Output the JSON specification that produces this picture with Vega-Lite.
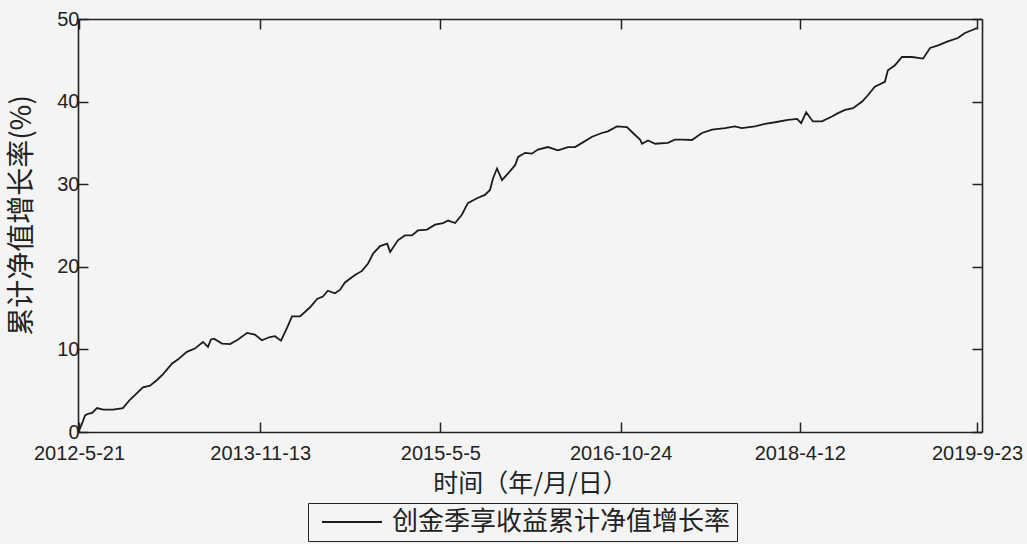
{
  "$schema": "https://vega.github.io/schema/vega-lite/v6.json",
  "width": 904,
  "height": 413,
  "autosize": {"type": "none"},
  "padding": {"left": 78, "top": 19, "right": 45, "bottom": 112},
  "background": "#f4f4f4",
  "config": {"view": {"stroke": null}},
  "data": {"values": [
    {"date": "2012-05-21", "value": 0.2, "series": "创金季享收益累计净值增长率"},
    {"date": "2012-05-30", "value": 1.0, "series": "创金季享收益累计净值增长率"},
    {"date": "2012-06-08", "value": 2.0, "series": "创金季享收益累计净值增长率"},
    {"date": "2012-06-17", "value": 2.2, "series": "创金季享收益累计净值增长率"},
    {"date": "2012-06-29", "value": 2.3, "series": "创金季享收益累计净值增长率"},
    {"date": "2012-07-14", "value": 2.9, "series": "创金季享收益累计净值增长率"},
    {"date": "2012-08-01", "value": 2.7, "series": "创金季享收益累计净值增长率"},
    {"date": "2012-08-31", "value": 2.7, "series": "创金季享收益累计净值增长率"},
    {"date": "2012-09-29", "value": 2.9, "series": "创金季享收益累计净值增长率"},
    {"date": "2012-10-20", "value": 3.9, "series": "创金季享收益累计净值增长率"},
    {"date": "2012-11-10", "value": 4.7, "series": "创金季享收益累计净值增长率"},
    {"date": "2012-11-28", "value": 5.4, "series": "创金季享收益累计净值增长率"},
    {"date": "2012-12-19", "value": 5.6, "series": "创金季享收益累计净值增长率"},
    {"date": "2013-01-09", "value": 6.3, "series": "创金季享收益累计净值增长率"},
    {"date": "2013-01-27", "value": 7.0, "series": "创金季享收益累计净值增长率"},
    {"date": "2013-02-23", "value": 8.3, "series": "创金季享收益累计净值增长率"},
    {"date": "2013-03-13", "value": 8.8, "series": "创金季享收益累计净值增长率"},
    {"date": "2013-04-08", "value": 9.7, "series": "创金季享收益累计净值增长率"},
    {"date": "2013-05-02", "value": 10.1, "series": "创金季享收益累计净值增长率"},
    {"date": "2013-05-26", "value": 10.9, "series": "创金季享收益累计净值增长率"},
    {"date": "2013-06-10", "value": 10.3, "series": "创金季享收益累计净值增长率"},
    {"date": "2013-06-19", "value": 11.2, "series": "创金季享收益累计净值增长率"},
    {"date": "2013-06-28", "value": 11.3, "series": "创金季享收益累计净值增长率"},
    {"date": "2013-07-22", "value": 10.7, "series": "创金季享收益累计净值增长率"},
    {"date": "2013-08-15", "value": 10.65, "series": "创金季享收益累计净值增长率"},
    {"date": "2013-09-08", "value": 11.2, "series": "创金季享收益累计净值增长率"},
    {"date": "2013-10-05", "value": 12.0, "series": "创金季享收益累计净值增长率"},
    {"date": "2013-10-28", "value": 11.8, "series": "创金季享收益累计净值增长率"},
    {"date": "2013-11-18", "value": 11.1, "series": "创金季享收益累计净值增长率"},
    {"date": "2013-12-12", "value": 11.5, "series": "创金季享收益累计净值增长率"},
    {"date": "2013-12-27", "value": 11.6, "series": "创金季享收益累计净值增长率"},
    {"date": "2014-01-14", "value": 11.05, "series": "创金季享收益累计净值增长率"},
    {"date": "2014-02-01", "value": 12.6, "series": "创金季享收益累计净值增长率"},
    {"date": "2014-02-16", "value": 14.0, "series": "创金季享收益累计净值增长率"},
    {"date": "2014-03-12", "value": 14.0, "series": "创金季享收益累计净值增长率"},
    {"date": "2014-04-11", "value": 15.1, "series": "创金季享收益累计净值增长率"},
    {"date": "2014-05-02", "value": 16.1, "series": "创金季享收益累计净值增长率"},
    {"date": "2014-05-19", "value": 16.4, "series": "创金季享收益累计净值增长率"},
    {"date": "2014-06-03", "value": 17.1, "series": "创金季享收益累计净值增长率"},
    {"date": "2014-06-24", "value": 16.8, "series": "创金季享收益累计净值增长率"},
    {"date": "2014-07-09", "value": 17.2, "series": "创金季享收益累计净值增长率"},
    {"date": "2014-07-24", "value": 18.1, "series": "创金季享收益累计净值增长率"},
    {"date": "2014-08-23", "value": 19.0, "series": "创金季享收益累计净值增长率"},
    {"date": "2014-09-13", "value": 19.5, "series": "创金季享收益累计净值增长率"},
    {"date": "2014-10-01", "value": 20.4, "series": "创金季享收益累计净值增长率"},
    {"date": "2014-10-16", "value": 21.6, "series": "创金季享收益累计净值增长率"},
    {"date": "2014-11-06", "value": 22.5, "series": "创金季享收益累计净值增长率"},
    {"date": "2014-11-27", "value": 22.8, "series": "创金季享收益累计净值增长率"},
    {"date": "2014-12-06", "value": 21.8, "series": "创金季享收益累计净值增长率"},
    {"date": "2014-12-29", "value": 23.2, "series": "创金季享收益累计净值增长率"},
    {"date": "2015-01-19", "value": 23.8, "series": "创金季享收益累计净值增长率"},
    {"date": "2015-02-09", "value": 23.8, "series": "创金季享收益累计净值增长率"},
    {"date": "2015-02-27", "value": 24.4, "series": "创金季享收益累计净值增长率"},
    {"date": "2015-03-26", "value": 24.5, "series": "创金季享收益累计净值增长率"},
    {"date": "2015-04-19", "value": 25.1, "series": "创金季享收益累计净值增长率"},
    {"date": "2015-05-13", "value": 25.3, "series": "创金季享收益累计净值增长率"},
    {"date": "2015-05-28", "value": 25.6, "series": "创金季享收益累计净值增长率"},
    {"date": "2015-06-18", "value": 25.3, "series": "创金季享收益累计净值增长率"},
    {"date": "2015-07-08", "value": 26.3, "series": "创金季享收益累计净值增长率"},
    {"date": "2015-07-26", "value": 27.7, "series": "创金季享收益累计净值增长率"},
    {"date": "2015-08-22", "value": 28.3, "series": "创金季享收益累计净值增长率"},
    {"date": "2015-09-15", "value": 28.7, "series": "创金季享收益累计净值增长率"},
    {"date": "2015-09-30", "value": 29.3, "series": "创金季享收益累计净值增长率"},
    {"date": "2015-10-09", "value": 30.7, "series": "创金季享收益累计净值增长率"},
    {"date": "2015-10-21", "value": 31.9, "series": "创金季享收益累计净值增长率"},
    {"date": "2015-11-05", "value": 30.5, "series": "创金季享收益累计净值增长率"},
    {"date": "2015-11-23", "value": 31.3, "series": "创金季享收益累计净值增长率"},
    {"date": "2015-12-14", "value": 32.3, "series": "创金季享收益累计净值增长率"},
    {"date": "2015-12-23", "value": 33.3, "series": "创金季享收益累计净值增长率"},
    {"date": "2016-01-13", "value": 33.8, "series": "创金季享收益累计净值增长率"},
    {"date": "2016-02-02", "value": 33.7, "series": "创金季享收益累计净值增长率"},
    {"date": "2016-02-20", "value": 34.2, "series": "创金季享收益累计净值增长率"},
    {"date": "2016-03-21", "value": 34.5, "series": "创金季享收益累计净值增长率"},
    {"date": "2016-04-20", "value": 34.1, "series": "创金季享收益累计净值增长率"},
    {"date": "2016-05-20", "value": 34.5, "series": "创金季享收益累计净值增长率"},
    {"date": "2016-06-10", "value": 34.5, "series": "创金季享收益累计净值增长率"},
    {"date": "2016-07-01", "value": 35.0, "series": "创金季享收益累计净值增长率"},
    {"date": "2016-07-31", "value": 35.75, "series": "创金季享收益累计净值增长率"},
    {"date": "2016-08-29", "value": 36.2, "series": "创金季享收益累计净值增长率"},
    {"date": "2016-09-16", "value": 36.4, "series": "创金季享收益累计净值增长率"},
    {"date": "2016-10-13", "value": 37.0, "series": "创金季享收益累计净值增长率"},
    {"date": "2016-11-12", "value": 36.9, "series": "创金季享收益累计净值增长率"},
    {"date": "2016-11-30", "value": 36.2, "series": "创金季享收益累计净值增长率"},
    {"date": "2016-12-21", "value": 35.4, "series": "创金季享收益累计净值增长率"},
    {"date": "2016-12-27", "value": 34.9, "series": "创金季享收益累计净值增长率"},
    {"date": "2017-01-14", "value": 35.3, "series": "创金季享收益累计净值增长率"},
    {"date": "2017-02-04", "value": 34.9, "series": "创金季享收益累计净值增长率"},
    {"date": "2017-03-14", "value": 35.0, "series": "创金季享收益累计净值增长率"},
    {"date": "2017-04-04", "value": 35.4, "series": "创金季享收益累计净值增长率"},
    {"date": "2017-04-25", "value": 35.4, "series": "创金季享收益累计净值增长率"},
    {"date": "2017-05-25", "value": 35.35, "series": "创金季享收益累计净值增长率"},
    {"date": "2017-06-24", "value": 36.2, "series": "创金季享收益累计净值增长率"},
    {"date": "2017-07-24", "value": 36.6, "series": "创金季享收益累计净值增长率"},
    {"date": "2017-09-01", "value": 36.8, "series": "创金季享收益累计净值增长率"},
    {"date": "2017-09-30", "value": 37.0, "series": "创金季享收益累计净值增长率"},
    {"date": "2017-10-21", "value": 36.8, "series": "创金季享收益累计净值增长率"},
    {"date": "2017-11-29", "value": 37.0, "series": "创金季享收益累计净值增长率"},
    {"date": "2017-12-29", "value": 37.3, "series": "创金季享收益累计净值增长率"},
    {"date": "2018-01-28", "value": 37.5, "series": "创金季享收益累计净值增长率"},
    {"date": "2018-03-08", "value": 37.8, "series": "创金季享收益累计净值增长率"},
    {"date": "2018-04-04", "value": 37.9, "series": "创金季享收益累计净值增长率"},
    {"date": "2018-04-16", "value": 37.4, "series": "创金季享收益累计净值增长率"},
    {"date": "2018-05-01", "value": 38.7, "series": "创金季享收益累计净值增长率"},
    {"date": "2018-05-21", "value": 37.6, "series": "创金季享收益累计净值增长率"},
    {"date": "2018-06-17", "value": 37.6, "series": "创金季享收益累计净值增长率"},
    {"date": "2018-07-17", "value": 38.2, "series": "创金季享收益累计净值增长率"},
    {"date": "2018-08-04", "value": 38.6, "series": "创金季享收益累计净值增长率"},
    {"date": "2018-08-25", "value": 39.0, "series": "创金季享收益累计净值增长率"},
    {"date": "2018-09-18", "value": 39.2, "series": "创金季享收益累计净值增长率"},
    {"date": "2018-10-15", "value": 40.0, "series": "创金季享收益累计净值增长率"},
    {"date": "2018-11-02", "value": 40.8, "series": "创金季享收益累计净值增长率"},
    {"date": "2018-11-22", "value": 41.8, "series": "创金季享收益累计净值增长率"},
    {"date": "2018-12-22", "value": 42.4, "series": "创金季享收益累计净值增长率"},
    {"date": "2018-12-31", "value": 43.8, "series": "创金季享收益累计净值增长率"},
    {"date": "2019-01-21", "value": 44.4, "series": "创金季享收益累计净值增长率"},
    {"date": "2019-02-11", "value": 45.4, "series": "创金季享收益累计净值增长率"},
    {"date": "2019-03-13", "value": 45.4, "series": "创金季享收益累计净值增长率"},
    {"date": "2019-04-15", "value": 45.2, "series": "创金季享收益累计净值增长率"},
    {"date": "2019-05-06", "value": 46.5, "series": "创金季享收益累计净值增长率"},
    {"date": "2019-05-30", "value": 46.8, "series": "创金季享收益累计净值增长率"},
    {"date": "2019-06-28", "value": 47.3, "series": "创金季享收益累计净值增长率"},
    {"date": "2019-07-28", "value": 47.7, "series": "创金季享收益累计净值增长率"},
    {"date": "2019-08-18", "value": 48.3, "series": "创金季享收益累计净值增长率"},
    {"date": "2019-09-11", "value": 48.7, "series": "创金季享收益累计净值增长率"},
    {"date": "2019-09-23", "value": 48.9, "series": "创金季享收益累计净值增长率"}
  ]},
  "layer": [
    {
      "mark": {"type": "line", "strokeWidth": 1.8},
      "encoding": {
        "x": {
          "field": "date", "type": "temporal",
          "scale": {"type": "utc", "domain": [{"year": 2012, "month": 5, "date": 18, "utc": true}, {"year": 2019, "month": 10, "date": 8, "utc": true}]},
          "axis": {
            "orient": "bottom",
            "values": [
              {"year": 2012, "month": 5, "date": 21, "utc": true},
              {"year": 2013, "month": 11, "date": 13, "utc": true},
              {"year": 2015, "month": 5, "date": 5, "utc": true},
              {"year": 2016, "month": 10, "date": 24, "utc": true},
              {"year": 2018, "month": 4, "date": 12, "utc": true},
              {"year": 2019, "month": 9, "date": 23, "utc": true}
            ],
            "labelExpr": "utcFormat(datum.value, '%Y-%-m-%-d')",
            "grid": false,
            "domainColor": "#222222", "domainWidth": 1.6,
            "tickColor": "#222222", "tickWidth": 1.5, "tickSize": -10,
            "labelFont": "Liberation Sans",
            "labelFontSize": 20, "labelColor": "#222222", "labelPadding": 21,
            "labelFlush": false, "labelOverlap": false,
            "title": "时间（年/月/日）",
            "titleFont": "Noto Sans CJK SC", "titleFontSize": 25, "titleFontWeight": "normal",
            "titleColor": "#222222", "titleY": 51, "titleBaseline": "middle"
          }
        },
        "y": {
          "field": "value", "type": "quantitative",
          "scale": {"domain": [0, 50], "nice": false},
          "axis": {
            "orient": "left",
            "values": [0, 10, 20, 30, 40, 50],
            "grid": false,
            "domainColor": "#222222", "domainWidth": 1.6,
            "tickColor": "#222222", "tickWidth": 1.5, "tickSize": -10,
            "labelFont": "Liberation Sans",
            "labelFontSize": 20, "labelColor": "#222222", "labelPadding": 9,
            "labelFlush": false, "labelOverlap": false,
            "title": "累计净值增长率(%)",
            "titleFont": "Noto Sans CJK SC", "titleFontSize": 28, "titleFontWeight": "normal",
            "titleColor": "#222222", "titleX": -56, "titleY": 196,
            "titleAngle": -90, "titleBaseline": "middle", "titleAlign": "center"
          }
        },
        "color": {
          "field": "series", "type": "nominal",
          "scale": {"range": ["#1c1c1c"]},
          "legend": {
            "orient": "none", "legendX": 230, "legendY": 484,
            "title": null, "strokeColor": "#222222", "padding": 6,
            "symbolType": "M-1,0H11", "symbolSize": 100, "symbolStrokeWidth": 1.8,
            "labelOffset": 52,
            "labelFont": "Noto Sans CJK SC", "labelFontSize": 26, "labelColor": "#222222",
            "labelLimit": 600
          }
        }
      }
    },
    {
      "mark": {"type": "line", "strokeOpacity": 0},
      "encoding": {
        "x": {
          "field": "date", "type": "temporal",
          "axis": {
            "orient": "top",
            "values": [
              {"year": 2012, "month": 5, "date": 21, "utc": true},
              {"year": 2013, "month": 11, "date": 13, "utc": true},
              {"year": 2015, "month": 5, "date": 5, "utc": true},
              {"year": 2016, "month": 10, "date": 24, "utc": true},
              {"year": 2018, "month": 4, "date": 12, "utc": true},
              {"year": 2019, "month": 9, "date": 23, "utc": true}
            ],
            "labels": false, "title": null, "grid": false,
            "domainColor": "#222222", "domainWidth": 1.6,
            "tickColor": "#222222", "tickWidth": 1.5, "tickSize": -10
          }
        },
        "y": {
          "field": "value", "type": "quantitative",
          "axis": {
            "orient": "right",
            "values": [0, 10, 20, 30, 40, 50],
            "labels": false, "title": null, "grid": false,
            "domainColor": "#222222", "domainWidth": 1.6,
            "tickColor": "#222222", "tickWidth": 1.5, "tickSize": -10
          }
        }
      }
    }
  ],
  "resolve": {"axis": {"x": "independent", "y": "independent"}}
}
